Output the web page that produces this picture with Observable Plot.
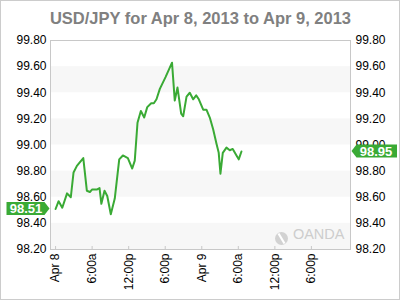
<!DOCTYPE html>
<html><head><meta charset="utf-8">
<script src="https://cdn.jsdelivr.net/npm/d3@7"></script>
<script src="https://cdn.jsdelivr.net/npm/@observablehq/plot@0.6"></script>
<style>body{margin:0;background:#fff;} svg{display:block;}</style>
</head><body><div id="chart"></div>
<script>
const titleText = "USD/JPY for Apr 8, 2013 to Apr 9, 2013";
const times = [
 "2013-04-08T00:00","2013-04-08T00:30","2013-04-08T01:06","2013-04-08T01:53","2013-04-08T02:30",
 "2013-04-08T02:57","2013-04-08T03:30","2013-04-08T04:33","2013-04-08T05:08","2013-04-08T05:38",
 "2013-04-08T06:01","2013-04-08T06:50","2013-04-08T07:13","2013-04-08T07:31","2013-04-08T08:02",
 "2013-04-08T08:29","2013-04-08T09:04","2013-04-08T09:43","2013-04-08T10:27","2013-04-08T11:03",
 "2013-04-08T11:52","2013-04-08T12:35","2013-04-08T13:00","2013-04-08T13:27","2013-04-08T14:00",
 "2013-04-08T14:33","2013-04-08T15:03","2013-04-08T15:42","2013-04-08T16:08","2013-04-08T16:34",
 "2013-04-08T17:07","2013-04-08T18:03","2013-04-08T19:07","2013-04-08T19:34","2013-04-08T20:01",
 "2013-04-08T20:37","2013-04-08T20:57","2013-04-08T21:30","2013-04-08T22:02","2013-04-08T22:35",
 "2013-04-08T23:05","2013-04-08T23:31","2013-04-09T00:14","2013-04-09T00:46","2013-04-09T01:19",
 "2013-04-09T01:52","2013-04-09T02:25","2013-04-09T02:47","2013-04-09T03:04","2013-04-09T03:27",
 "2013-04-09T04:03","2013-04-09T04:36","2013-04-09T05:05","2013-04-09T05:42","2013-04-09T06:04",
 "2013-04-09T06:31"
];
const rates = [
 98.51,98.57,98.52,98.63,98.60,
 98.79,98.84,98.90,98.65,98.64,
 98.66,98.66,98.67,98.55,98.65,
 98.61,98.47,98.59,98.89,98.92,
 98.90,98.82,98.88,99.17,99.26,
 99.21,99.29,99.32,99.32,99.35,
 99.43,99.52,99.63,99.34,99.44,
 99.24,99.22,99.37,99.40,99.35,
 99.38,99.35,99.27,99.27,99.21,
 99.12,99.01,98.94,98.78,98.94,
 98.98,98.96,98.97,98.92,98.89,
 98.95
];
const xDomainStrings = ["2013-04-07T23:10","2013-04-10T00:25"];
const xTickStrings = ["2013-04-08T00:00","2013-04-08T06:00","2013-04-08T12:00","2013-04-08T18:00",
 "2013-04-09T00:00","2013-04-09T06:00","2013-04-09T12:00","2013-04-09T18:00"];
const yTicks = [98.2,98.4,98.6,98.8,99.0,99.2,99.4,99.6,99.8];
const bandStarts = [98.2,98.6,99.0,99.4];
const bandEnds = [98.4,98.8,99.2,99.6];
const monthNames = ["Jan","Feb","Mar","Apr","May","Jun","Jul","Aug","Sep","Oct","Nov","Dec"];

const toDate = s => new Date(s + ":00Z");
const data = times.map((t,i)=>({t:toDate(t), v:rates[i]}));
const xDomain = xDomainStrings.map(toDate);
const xTicks = xTickStrings.map(toDate);
const bands = bandStarts.map((s,i)=>({y1:s, y2:bandEnds[i]}));
const fmt = d => {
  const h = d.getUTCHours();
  if (h === 0) return monthNames[d.getUTCMonth()] + " " + d.getUTCDate();
  return (h % 12 || 12) + ":00" + (h < 12 ? "a" : "p");
};
const GREEN = "#3aaa35";
const font = "'Liberation Sans', Arial, sans-serif";

const chart = Plot.plot({
  width: 400, height: 300,
  marginTop: 40, marginBottom: 51, marginLeft: 50, marginRight: 50,
  style: {fontFamily: font, fontSize: "12px", color: "#000", background: "#fff"},
  x: {type: "utc", domain: xDomain, label: null},
  y: {domain: [98.2, 99.8], label: null},
  marks: [
    Plot.rect(bands, {x1: () => xDomain[0], x2: () => xDomain[1], y1: "y1", y2: "y2", fill: "#f7f7f7"}),
    Plot.frame({stroke: "#c8c8c8"}),
    Plot.ruleX(xTicks, {x: d => d, stroke: "#c8c8c8", insetTop: 206}),
    Plot.axisX({ticks: xTicks, tickFormat: fmt, tickRotate: -90, tickSize: 0, tickPadding: 4, fontSize: 12}),
    Plot.axisY({anchor: "left", ticks: yTicks, tickFormat: d => d.toFixed(2), tickSize: 0, tickPadding: 4, fontSize: 12}),
    Plot.axisY({anchor: "right", ticks: yTicks, tickFormat: d => d.toFixed(2), tickSize: 0, tickPadding: 5, fontSize: 12}),
    Plot.text(["OANDA"], {frameAnchor: "bottom-right", dx: -6, dy: -11, fontSize: 14.5, fill: "#cdcdcd", textAnchor: "end"}),
    Plot.line(data, {x: "t", y: "v", stroke: GREEN, strokeWidth: 2}),
    Plot.text([titleText], {frameAnchor: "top", dy: -28, fontSize: 16.5, fontWeight: "bold", fill: "#808080"})
  ]
});

const svg = d3.select(chart);
const ys = chart.scale("y");
// outer border
svg.append("rect").attr("x",0.5).attr("y",0.5).attr("width",399).attr("height",299)
  .attr("fill","none").attr("stroke","#cccccc");
// OANDA logo
const lg = svg.append("g").attr("transform","translate(281.5,238.5)");
lg.append("circle").attr("r",6.5).attr("fill","#d2d2d2");
lg.append("path").attr("d","M-3,-5 L3,5").attr("stroke","#fff").attr("stroke-width",2.2);
// value tags
const firstY = ys.apply(rates[0]);
const lastY = ys.apply(rates[rates.length-1]);
svg.append("path").attr("fill",GREEN)
  .attr("d",`M6.5,${firstY-6.5}H44.5L49.5,${firstY}L44.5,${firstY+6.5}H6.5Z`);
svg.append("text").attr("x",26).attr("y",firstY).attr("dy","0.36em").attr("text-anchor","middle")
  .attr("fill","#fff").attr("font-weight","bold").attr("font-size",13).attr("font-family",font)
  .text(rates[0].toFixed(2));
svg.append("path").attr("fill",GREEN)
  .attr("d",`M351.5,${lastY}L356.5,${lastY-6.5}H397V${lastY+6.5}H356.5Z`);
svg.append("text").attr("x",376).attr("y",lastY).attr("dy","0.36em").attr("text-anchor","middle")
  .attr("fill","#fff").attr("font-weight","bold").attr("font-size",13).attr("font-family",font)
  .text(rates[rates.length-1].toFixed(2));

document.getElementById("chart").appendChild(chart);
</script></body></html>
